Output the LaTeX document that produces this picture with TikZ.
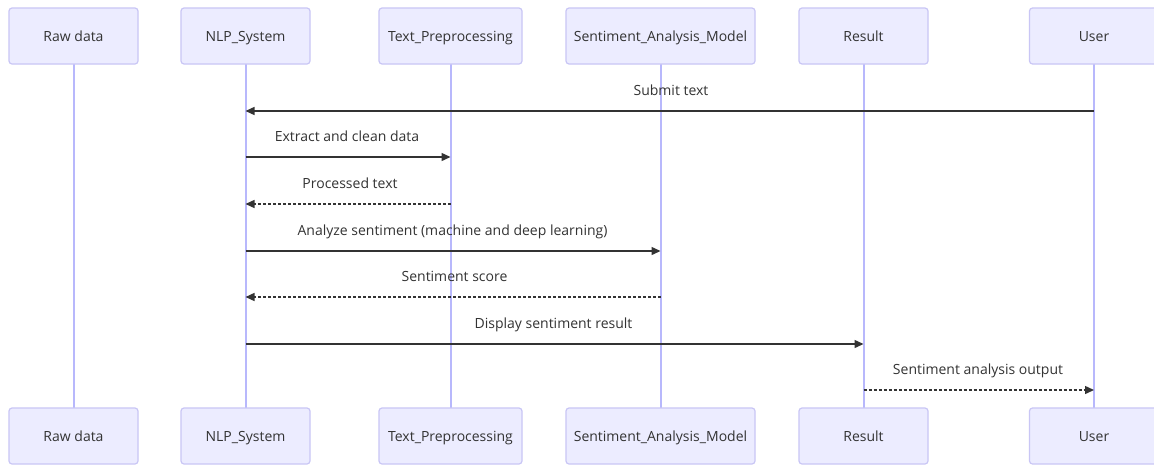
\documentclass[tikz,border=0pt]{standalone}
\usepackage{fontspec}
\setmainfont{Open Sans}
\usetikzlibrary{arrows.meta}
\definecolor{actfill}{HTML}{ECECFF}
\definecolor{actline}{HTML}{C9C6F5}
\definecolor{life}{HTML}{B8B8FC}
\definecolor{ink}{HTML}{333333}
\tikzset{
  actor/.style={draw=actline, fill=actfill, line width=1.2pt, rounded corners=3pt,
    minimum width=129pt, minimum height=56pt, inner sep=0pt, text=ink,
    text height=14pt, text depth=3pt,
    font=\fontsize{14}{16}\selectfont},
  lifeline/.style={draw=life, line width=2pt},
  msg/.style={draw=ink, line width=1.4pt, -{Triangle[length=9pt,width=8pt]}},
  reply/.style={msg, dash pattern=on 3pt off 2pt},
  lbl/.style={text=ink, font=\fontsize{14}{16}\selectfont, inner sep=0pt,
    text height=14pt, text depth=3pt}
}
\begin{document}
\begin{tikzpicture}[x=1pt,y=-1pt]
\useasboundingbox (0,0) rectangle (1154,464);
\fill[white] (0,0) rectangle (1154,464);
% lifelines
\foreach \n/\x in {raw/73.5, nlp/245.5, txt/450.5, sam/660.5, res/863.5, usr/1094}{
  \draw[lifeline] (\x,64) -- (\x,408);
}
% top actors
\node[actor] (rawT) at (73.5,36) {Raw data};
\node[actor] (nlpT) at (245.5,36) {NLP\_System};
\node[actor, minimum width=143pt] (txtT) at (450.5,36) {Text\_Preprocessing};
\node[actor, minimum width=189pt] (samT) at (660.5,36) {Sentiment\_Analysis\_Model};
\node[actor] (resT) at (863.5,36) {Result};
\node[actor] (usrT) at (1094,36) {User};
% bottom actors
\node[actor] (rawB) at (73.5,436) {Raw data};
\node[actor] (nlpB) at (245.5,436) {NLP\_System};
\node[actor, minimum width=143pt] (txtB) at (450.5,436) {Text\_Preprocessing};
\node[actor, minimum width=189pt] (samB) at (660.5,436) {Sentiment\_Analysis\_Model};
\node[actor] (resB) at (863.5,436) {Result};
\node[actor] (usrB) at (1094,436) {User};
% message endpoints
\foreach \n/\x in {nlp/245.5, txt/450.5, sam/660.5, res/863.5, usr/1094}{
  \foreach \k/\y in {1/111,2/157,3/204,4/251,5/297,6/344,7/390}{
    \coordinate (\n\k) at (\x,\y);
  }
}
% messages
\draw[msg] (usr1) -- (nlp1);
\node[lbl] (l1) at (671,90) {Submit text};
\draw[msg] (nlp2) -- (txt2);
\node[lbl] (l2) at (347,136) {Extract and clean data};
\draw[reply] (txt3) -- (nlp3);
\node[lbl] (l3) at (350,183) {Processed text};
\draw[msg] (nlp4) -- (sam4);
\node[lbl] (l4) at (452.5,230) {Analyze sentiment (machine and deep learning)};
\draw[reply] (sam5) -- (nlp5);
\node[lbl] (l5) at (454.5,276) {Sentiment score};
\draw[msg] (nlp6) -- (res6);
\node[lbl] (l6) at (553.5,323) {Display sentiment result};
\draw[reply] (res7) -- (usr7);
\node[lbl] (l7) at (978,369) {Sentiment analysis output};
\end{tikzpicture}
\end{document}
